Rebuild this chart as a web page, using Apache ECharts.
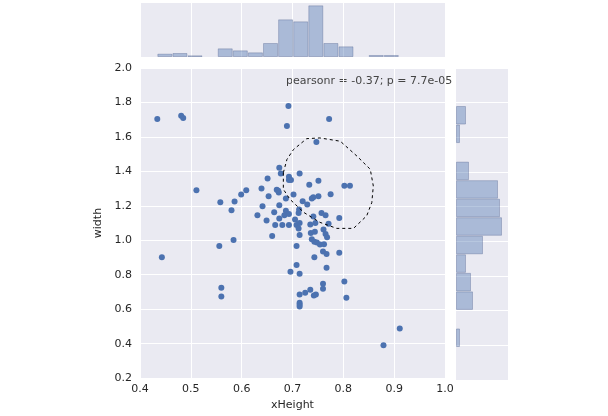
<!DOCTYPE html><html><head><meta charset="utf-8"><script src="https://cdn.jsdelivr.net/npm/echarts@6/dist/echarts.min.js"></script></head><body style="margin:0;background:#fff"><div id="c" style="width:608px;height:416px"></div><script>
const xHeight=[0.434,0.481,0.485,0.692,0.689,0.772,0.747,0.674,0.677,0.714,0.693,0.697,0.693,0.651,0.733,0.751,0.802,0.813,0.511,0.609,0.599,0.639,0.669,0.672,0.673,0.653,0.702,0.687,0.775,0.751,0.741,0.738,0.558,0.586,0.641,0.580,0.674,0.720,0.729,0.631,0.664,0.687,0.684,0.693,0.713,0.712,0.757,0.765,0.792,0.649,0.674,0.666,0.680,0.693,0.705,0.708,0.714,0.712,0.735,0.745,0.771,0.741,0.660,0.714,0.736,0.744,0.761,0.765,0.768,0.738,0.743,0.748,0.754,0.762,0.584,0.556,0.708,0.760,0.767,0.792,0.743,0.443,0.767,0.708,0.696,0.714,0.802,0.760,0.760,0.735,0.725,0.714,0.746,0.742,0.560,0.560,0.806,0.714,0.714,0.714,0.911,0.879];
const width=[1.704,1.723,1.710,1.779,1.663,1.704,1.571,1.421,1.388,1.387,1.369,1.350,1.350,1.358,1.323,1.346,1.317,1.317,1.290,1.290,1.265,1.300,1.294,1.287,1.277,1.256,1.265,1.242,1.267,1.256,1.250,1.242,1.221,1.225,1.198,1.175,1.204,1.227,1.208,1.146,1.162,1.171,1.146,1.152,1.179,1.158,1.158,1.146,1.129,1.115,1.127,1.088,1.088,1.088,1.121,1.088,1.100,1.069,1.092,1.100,1.096,1.138,1.025,1.031,1.042,1.050,1.063,1.037,1.017,1.006,0.992,0.987,0.975,0.977,1.002,0.967,0.967,0.935,0.921,0.927,0.902,0.902,0.840,0.856,0.817,0.806,0.760,0.748,0.719,0.713,0.696,0.685,0.685,0.679,0.725,0.673,0.667,0.638,0.627,0.615,0.488,0.390];
const xBinStart=0.434, xBinWidth=0.0297;
const xCounts=[10,12,5,0,26,20,14,42,113,107,155,42,32,0,6,6];
const yBinLabels=['1.67–1.78','1.57–1.67','1.46–1.57','1.35–1.46','1.25–1.35','1.14–1.25','1.03–1.14','0.92–1.03','0.82–0.92','0.71–0.82','0.60–0.71','0.50–0.60','0.39–0.50'];
const yCountsTopDown=[30,12,0,39,126,132,138,81,30,45,51,0,12];
const lassoX=[0.682,0.689,0.702,0.728,0.754,0.794,0.827,0.853,0.859,0.856,0.846,0.820,0.787,0.754,0.722,0.695,0.682,0.682];
const lassoY=[1.392,1.469,1.527,1.590,1.594,1.575,1.488,1.412,1.315,1.219,1.142,1.069,1.069,1.104,1.162,1.238,1.296,1.392];
const c=echarts.init(document.getElementById('c'));
const bg='#EAEAF2', txt='#262626', blue='#4C72B0';
const lab={color:txt,fontSize:11,fontFamily:'DejaVu Sans'};
const sl={show:true,lineStyle:{color:'#fff',width:1}};
const hidden={show:false};
const histStyle={color:'rgba(76,114,176,0.4)',borderColor:'rgba(60,80,130,0.3)',borderWidth:1};
c.setOption({animation:false,
grid:[{left:140,top:68,width:305,height:312,show:true,backgroundColor:bg,borderWidth:0},
{left:140,top:3,width:305,height:54,show:true,backgroundColor:bg,borderWidth:0},
{left:456,top:68,width:52,height:312,show:true,backgroundColor:bg,borderWidth:0},
{left:456,top:106,width:52,height:241,show:false}],
xAxis:[{gridIndex:0,type:'value',min:0.4,max:1.0,interval:0.1,name:'xHeight',nameLocation:'middle',nameGap:20,nameTextStyle:lab,axisLine:hidden,axisTick:hidden,axisLabel:Object.assign({formatter:v=>v.toFixed(1),margin:6},lab),splitLine:sl},
{gridIndex:1,type:'value',min:0.4,max:1.0,interval:0.1,axisLine:hidden,axisTick:hidden,axisLabel:hidden,splitLine:sl},
{gridIndex:2,type:'value',min:0,max:156,axisLine:hidden,axisTick:hidden,axisLabel:hidden,splitLine:hidden},
{gridIndex:3,type:'value',min:0,max:156,axisLine:hidden,axisTick:hidden,axisLabel:hidden,splitLine:hidden}],
yAxis:[{gridIndex:0,type:'value',min:0.2,max:2.0,interval:0.2,name:'width',nameLocation:'middle',nameGap:32,nameTextStyle:lab,axisLine:hidden,axisTick:hidden,axisLabel:Object.assign({formatter:v=>v.toFixed(1),margin:8},lab),splitLine:sl},
{gridIndex:1,type:'value',min:0,max:162,axisLine:hidden,axisTick:hidden,axisLabel:hidden,splitLine:hidden},
{gridIndex:2,type:'value',min:0.2,max:2.0,interval:0.2,axisLine:hidden,axisTick:hidden,axisLabel:hidden,splitLine:sl},
{gridIndex:3,type:'category',inverse:true,data:yBinLabels,axisLine:hidden,axisTick:hidden,axisLabel:hidden,splitLine:hidden}],
series:[
{type:'scatter',xAxisIndex:0,yAxisIndex:0,symbolSize:6,itemStyle:{color:blue,opacity:1},data:xHeight.map((x,i)=>[x,width[i]])},
{type:'line',xAxisIndex:0,yAxisIndex:0,symbol:'none',lineStyle:{color:'#000',width:1,type:[3,3]},data:lassoX.map((x,i)=>[x,lassoY[i]])},
{type:'bar',xAxisIndex:1,yAxisIndex:1,barWidth:15,itemStyle:histStyle,data:xCounts.map((v,i)=>[xBinStart+xBinWidth*(i+0.5),v||null])},
{type:'bar',xAxisIndex:3,yAxisIndex:3,barCategoryGap:0,itemStyle:histStyle,data:yCountsTopDown.map(v=>v||null)}
],
graphic:[{type:'text',left:286,top:76,style:{text:'pearsonr = -0.37; p = 7.7e-05',fill:'#444',font:'11px DejaVu Sans'}}]
});
</script></body></html>
